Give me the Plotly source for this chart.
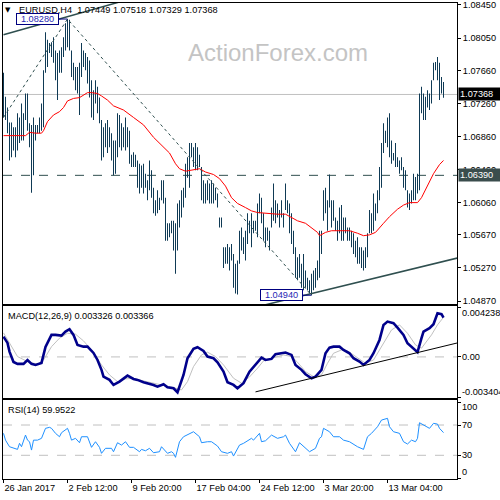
import plotly.graph_objects as go

# ---------------- data ----------------
bar_high = [1.0763,1.0734,1.0721,1.0703,1.0703,1.0697,1.0697,1.0714,1.0709,1.0726,
 1.0714,1.0738,1.0738,1.0702,1.0700,1.0709,1.0700,1.0700,1.0709,1.0726,
 1.0766,1.0812,1.0803,1.0799,1.0800,1.0806,1.0790,1.0787,1.0790,1.0794,
 1.0806,1.0823,1.0828,1.0827,1.0790,1.0775,1.0770,1.0770,1.0775,1.0799,
 1.0790,1.0787,1.0782,1.0778,1.0754,1.0742,1.0754,1.0746,1.0733,1.0706,
 1.0697,1.0702,1.0706,1.0697,1.0690,1.0681,1.0681,1.0714,1.0712,1.0702,
 1.0697,1.0709,1.0697,1.0693,1.0664,1.0667,1.0664,1.0657,1.0653,1.0651,
 1.0653,1.0641,1.0633,1.0657,1.0645,1.0624,1.0609,1.0621,1.0612,1.0633,
 1.0633,1.0612,1.0581,1.0581,1.0584,1.0584,1.0581,1.0605,1.0609,1.0621,
 1.0624,1.0653,1.0661,1.0678,1.0678,1.0673,1.0678,1.0673,1.0664,1.0649,
 1.0633,1.0629,1.0633,1.0629,1.0633,1.0629,1.0624,1.0617,1.0588,1.0588,
 1.0552,1.0552,1.0556,1.0552,1.0556,1.0544,1.0532,1.0536,1.0572,1.0576,
 1.0564,1.0572,1.0593,1.0584,1.0593,1.0584,1.0584,1.0605,1.0617,1.0612,
 1.0593,1.0576,1.0576,1.0572,1.0600,1.0629,1.0609,1.0605,1.0597,1.0609,
 1.0593,1.0629,1.0609,1.0605,1.0593,1.0572,1.0552,1.0540,1.0544,1.0532,
 1.0544,1.0524,1.0515,1.0512,1.0520,1.0524,1.0527,1.0536,1.0572,1.0572,
 1.0621,1.0624,1.0609,1.0640,1.0609,1.0609,1.0588,1.0584,1.0600,1.0603,
 1.0588,1.0588,1.0576,1.0576,1.0572,1.0569,1.0560,1.0564,1.0552,1.0552,
 1.0548,1.0552,1.0569,1.0597,1.0593,1.0617,1.0605,1.0621,1.0649,1.0678,
 1.0702,1.0693,1.0709,1.0714,1.0681,1.0666,1.0678,1.0661,1.0657,1.0661,
 1.0649,1.0645,1.0621,1.0617,1.0621,1.0641,1.0637,1.0641,1.0738,1.0746,
 1.0738,1.0734,1.0742,1.0738,1.0754,1.0775,1.0776,1.0782,1.0775,1.0758,
 1.07518]
bar_low = [1.0709,1.0706,1.0690,1.0657,1.0661,1.0669,1.0661,1.0669,1.0678,1.0681,
 1.0681,1.0706,1.0693,1.0673,1.0618,1.0639,1.0681,1.0690,1.0690,1.0693,
 1.0697,1.0763,1.0770,1.0787,1.0782,1.0775,1.0754,1.0730,1.0763,1.0763,
 1.0782,1.0790,1.0794,1.0790,1.0758,1.0754,1.0742,1.0738,1.0712,1.0758,
 1.0770,1.0766,1.0750,1.0733,1.0709,1.0706,1.0726,1.0714,1.0702,1.0657,
 1.0661,1.0673,1.0666,1.0673,1.0657,1.0639,1.0641,1.0661,1.0673,1.0669,
 1.0673,1.0669,1.0673,1.0653,1.0649,1.0649,1.0649,1.0624,1.0617,1.0624,
 1.0617,1.0624,1.0609,1.0621,1.0612,1.0593,1.0590,1.0593,1.0597,1.0609,
 1.0605,1.0560,1.0560,1.0564,1.0569,1.0548,1.0520,1.0548,1.0576,1.0588,
 1.0600,1.0612,1.0636,1.0624,1.0661,1.0649,1.0645,1.0645,1.0649,1.0609,
 1.0605,1.0605,1.0609,1.0605,1.0605,1.0605,1.0609,1.0600,1.0576,1.0576,
 1.0527,1.0532,1.0532,1.0524,1.0536,1.0503,1.0496,1.0495,1.0532,1.0548,
 1.0544,1.0536,1.0556,1.0569,1.0552,1.0569,1.0572,1.0564,1.0593,1.0581,
 1.0560,1.0552,1.0560,1.0548,1.0576,1.0584,1.0581,1.0588,1.0576,1.0588,
 1.0576,1.0597,1.0593,1.0569,1.0556,1.0544,1.0515,1.0512,1.0515,1.0503,
 1.0500,1.0503,1.0500,1.0496,1.0494,1.0500,1.0503,1.0512,1.0515,1.0544,
 1.0584,1.0593,1.0572,1.0600,1.0576,1.0584,1.0572,1.0560,1.0569,1.0560,
 1.0560,1.0569,1.0560,1.0560,1.0552,1.0544,1.0540,1.0532,1.0532,1.0527,
 1.0524,1.0527,1.0540,1.0569,1.0569,1.0572,1.0584,1.0593,1.0609,1.0624,
 1.0666,1.0678,1.0673,1.0661,1.0653,1.0657,1.0649,1.0649,1.0641,1.0645,
 1.0624,1.0621,1.0600,1.0597,1.0605,1.0609,1.0609,1.0617,1.0621,1.0714,
 1.0706,1.0706,1.0721,1.0718,1.0726,1.0754,1.0766,1.0754,1.0730,1.0738,
 1.07329]
bar_index = list(range(len(bar_high)))

ma_index = [0,11,13,16,19,20,22,25,28,30,32,35,38,40,42,44,47,49,52,55,60,65,70,75,80,83,86,88,91,95,98,101,105,108,111,114,117,121,124,127,131,134,137,141,144,147,151,154,157,158,161,164,168,173,177,180,183,186,190,193,197,200,203,207,209,212,215,218,220]
ma_value = [1.0687,1.0687,1.0691,1.0690,1.0690,1.0693,1.0704,1.0712,1.0716,1.0721,1.0729,1.0732,1.0733,1.0736,1.0739,1.0739,1.0738,1.0735,1.0730,1.0723,1.0718,1.0709,1.0700,1.0685,1.0673,1.0666,1.0653,1.0647,1.0644,1.0646,1.0647,1.0643,1.0640,1.0635,1.0626,1.0612,1.0605,1.0600,1.0596,1.0594,1.0593,1.0593,1.0592,1.0592,1.0588,1.0584,1.0581,1.0576,1.0570,1.0566,1.0570,1.0572,1.0572,1.0572,1.0569,1.0566,1.0567,1.0570,1.0581,1.0589,1.0598,1.0603,1.0606,1.0606,1.0612,1.0626,1.0641,1.0652,1.0657]

macd_index = [0,2,3,5,7,10,12,14,16,19,21,24,26,29,31,33,35,37,40,42,45,47,49,50,53,55,58,60,62,65,67,70,72,75,77,80,82,85,87,90,92,95,97,100,102,105,107,110,112,115,117,120,123,126,129,131,134,136,139,141,144,146,149,151,154,156,159,161,163,165,168,170,173,175,178,180,183,185,188,190,192,195,197,200,202,205,207,209,210,213,215,217,219,220]
macd_main = [0.00172,0.00119,0.00045,-0.00043,-0.00059,-0.00059,-0.00026,-0.00059,-0.00068,-0.00051,0.00085,0.00187,0.00187,0.00181,0.00215,0.00235,0.00187,0.00102,0.00087,0.00087,0.00034,-0.00026,-0.00110,-0.00167,-0.00195,-0.00238,-0.00210,-0.00181,-0.00159,-0.00187,-0.00195,-0.00215,-0.00223,-0.00238,-0.00252,-0.00232,-0.00257,-0.00266,-0.00300,-0.00153,-0.00011,0.00068,0.00082,0.00051,0.00003,-0.00011,-0.00045,-0.00125,-0.00215,-0.00238,-0.00266,-0.00223,-0.00125,-0.00068,-0.00006,-0.00026,-0.00017,0.00023,0.00031,0.00037,0.00017,-0.00068,-0.00110,-0.00147,-0.00181,-0.00167,-0.00110,0.00031,0.00079,0.00087,0.00087,0.00059,0.00031,-0.00011,-0.00040,-0.00068,-0.00026,0.00031,0.00144,0.00272,0.00300,0.00286,0.00249,0.00187,0.00116,0.00074,0.00040,0.00159,0.00215,0.00244,0.00278,0.00371,0.00363,0.003326]
signal_index = [0,4,7,12,17,20,24,28,32,36,40,44,49,53,57,61,65,70,75,80,85,89,92,95,99,102,106,110,115,119,123,127,130,134,137,140,144,147,151,155,159,162,165,169,172,177,181,185,189,194,198,202,206,209,214,217,220]
signal_value = [0.00204,0.00087,0.00003,-0.00040,-0.00062,-0.00026,0.00087,0.00159,0.00201,0.00193,0.00136,0.00059,-0.00068,-0.00153,-0.00210,-0.00187,-0.00181,-0.00204,-0.00223,-0.00238,-0.00261,-0.00280,-0.00210,-0.00082,0.00017,0.00040,0.00003,-0.00068,-0.00181,-0.00223,-0.00170,-0.00096,-0.00034,-0.00011,0.00003,0.00017,0.00003,-0.00045,-0.00125,-0.00167,-0.00153,-0.00054,0.00031,0.00059,0.00051,-0.00011,-0.00054,-0.00026,0.00087,0.00229,0.00272,0.00201,0.00102,0.00074,0.00187,0.00272,0.003366]

rsi_index = [0,1,3,5,7,8,9,11,12,13,14,15,17,19,20,21,23,24,26,28,29,31,32,33,34,36,38,39,42,44,46,48,49,51,54,55,57,59,61,63,65,68,69,71,73,75,78,79,82,84,85,86,88,90,93,95,98,99,102,104,107,109,112,114,115,118,120,123,124,125,128,129,131,134,137,140,141,143,144,146,148,150,153,156,158,159,160,163,165,168,170,173,177,180,182,184,187,189,192,193,195,198,200,202,204,206,207,208,210,212,213,215,217,218,219,220]
rsi_value = [59,50,41.3,39.2,37.8,45.8,41.3,56.7,50,47.9,36.9,50,50,52.4,59.8,65.6,66.9,65.6,59,54.5,59.8,64.2,65.6,59,50,52.4,46.6,54.5,54.5,40.5,47.9,40.5,32.6,39.2,39.2,34.7,46.6,43.5,47.9,40.5,40.5,34.7,37.8,36,39.2,33.4,34.7,41.3,32.6,34.7,32.6,27.3,47.9,54.5,59,61.1,54.5,46.6,47.9,47.9,42.2,34.7,32.6,34.7,29,43.5,45.8,50,52.4,50,59,47.9,49.2,56.7,52.4,54.5,56.7,45.8,42.2,34.7,46.6,41.3,34.7,39.2,52.4,54.5,65.6,61.1,54.5,54.5,50,47.9,41.3,37.8,54.5,59,67.7,76.5,78.8,67.7,61.1,59,47.9,44.9,50,47.9,52.4,73,69.9,67.7,65.6,72.2,71.2,65.6,62.4,59.9522]

# drawn objects (price/indicator values at bar indices)
trend_top_index = [0, 60]
trend_top_price = [1.0809, 1.0850]
dotted_index = [0, 32, 154]
dotted_price = [1.0709, 1.0828, 1.0494]
trend_low_index = [120, 227]
trend_low_price = [1.0476, 1.0539]
macd_trend_index = [126, 227]
macd_trend_value = [-0.00297, 0.00119]

last_close = 1.07368
level_price = 1.06390
swing_high = (32, 1.0828, "1.08280")
swing_low = (154, 1.0494, "1.04940")

price_ticks = [1.0845, 1.0805, 1.0766, 1.0726, 1.0686, 1.0646, 1.0606, 1.0567, 1.0527, 1.0487]
price_tick_text = ["1.08450", "1.08050", "1.07660", "1.07260", "1.06860", "1.06460",
                   "1.06060", "1.05670", "1.05270", "1.04870"]
macd_ticks = [0.004238, 0.0, -0.003404]
macd_tick_text = ["0.004238", "0.00", "-0.003404"]
macd_tick_shift = [-6, 0, 5]
rsi_ticks = [100, 70, 30, 0]
rsi_tick_text = ["100", "70", "30", "0"]
rsi_tick_shift = [-5, 0, 0, 6]
date_ticks = [0, 32, 64, 96, 128, 160, 192]
date_text = ["26 Jan 2017", "2 Feb 12:00", "9 Feb 20:00", "17 Feb 04:00",
             "24 Feb 12:00", "3 Mar 20:00", "13 Mar 04:00"]

header_text = "EURUSD,H4  1.07449 1.07518 1.07329 1.07368"
macd_text = "MACD(12,26,9) 0.003326 0.003366"
rsi_text = "RSI(14) 59.9522"

# ---------------- styling ----------------
FONT = "Liberation Sans, Arial, sans-serif"
FS = 9.2
BAR = "#0f3a55"
SLATE = "#2f4f4f"
XR = [-0.25, 226.75]
XDOM = [0.006, 0.914]

fig = go.Figure()

fig.add_trace(go.Bar(x=bar_index, base=bar_low,
                     y=[h - l for h, l in zip(bar_high, bar_low)],
                     width=0.5, marker=dict(color=BAR, line=dict(width=0)),
                     xaxis="x", yaxis="y", hoverinfo="skip"))
fig.add_trace(go.Scatter(x=ma_index, y=ma_value, mode="lines",
                         line=dict(color="#ff0000", width=1), xaxis="x", yaxis="y"))
fig.add_trace(go.Scatter(x=dotted_index, y=dotted_price, mode="lines",
                         line=dict(color=SLATE, width=1, dash="dot"), xaxis="x", yaxis="y"))
fig.add_trace(go.Scatter(x=trend_top_index, y=trend_top_price, mode="lines",
                         line=dict(color=SLATE, width=1.5), xaxis="x", yaxis="y"))
fig.add_trace(go.Scatter(x=trend_low_index, y=trend_low_price, mode="lines",
                         line=dict(color=SLATE, width=1.5), xaxis="x", yaxis="y"))

fig.add_trace(go.Scatter(x=signal_index, y=signal_value, mode="lines",
                         line=dict(color="#c0c0c0", width=1), xaxis="x2", yaxis="y2"))
fig.add_trace(go.Scatter(x=macd_index, y=macd_main, mode="lines",
                         line=dict(color="#00008b", width=2.6), xaxis="x2", yaxis="y2"))
fig.add_trace(go.Scatter(x=macd_trend_index, y=macd_trend_value, mode="lines",
                         line=dict(color="#000000", width=1), xaxis="x2", yaxis="y2"))

fig.add_trace(go.Scatter(x=rsi_index, y=rsi_value, mode="lines",
                         line=dict(color="#1e90ff", width=1), xaxis="x3", yaxis="y3"))

shapes = [
    dict(type="line", xref="x domain", x0=0, x1=1, yref="y", y0=last_close, y1=last_close,
         line=dict(color="#c0c0c0", width=1), layer="below"),
    dict(type="line", xref="x domain", x0=0, x1=1, yref="y", y0=level_price, y1=level_price,
         line=dict(color=SLATE, width=1, dash="dash"), layer="below"),
    dict(type="line", xref="x2 domain", x0=0, x1=1, yref="y2", y0=0, y1=0,
         line=dict(color="#c0c0c0", width=1, dash="dash"), layer="below"),
    dict(type="line", xref="x3 domain", x0=0, x1=1, yref="y3", y0=70, y1=70,
         line=dict(color="#c0c0c0", width=1, dash="dash"), layer="below"),
    dict(type="line", xref="x3 domain", x0=0, x1=1, yref="y3", y0=30, y1=30,
         line=dict(color="#c0c0c0", width=1, dash="dash"), layer="below"),
]

ann = []
ann.append(dict(xref="paper", yref="paper", x=0.016, y=0.98, text="▼", showarrow=False,
                font=dict(family="DejaVu Sans", size=7, color="black"), xanchor="center", yanchor="middle"))
ann.append(dict(xref="paper", yref="paper", x=0.034, y=0.98, text=header_text, showarrow=False,
                font=dict(family=FONT, size=FS, color="black"), xanchor="left", yanchor="middle"))
ann.append(dict(xref="paper", yref="paper", x=0.556, y=0.894, text="ActionForex.com", showarrow=False,
                font=dict(family=FONT, size=24, color="#c4c4c4"), xanchor="center", yanchor="middle"))
ann.append(dict(xref="paper", yref="paper", x=0.012, y=1 - 316 / 500, text=macd_text, showarrow=False,
                font=dict(family=FONT, size=FS, color="black"), xanchor="left", yanchor="middle"))
ann.append(dict(xref="paper", yref="paper", x=0.012, y=1 - 410 / 500, text=rsi_text, showarrow=False,
                font=dict(family=FONT, size=FS, color="black"), xanchor="left", yanchor="middle"))

for v, t, s in zip(macd_ticks, macd_tick_text, macd_tick_shift):
    ann.append(dict(xref="paper", yref="y2", x=0.922, y=v, yshift=s, text=t, showarrow=False,
                    font=dict(family=FONT, size=FS, color="black"), xanchor="left", yanchor="middle",
                    borderpad=0))
for v, t, s in zip(rsi_ticks, rsi_tick_text, rsi_tick_shift):
    ann.append(dict(xref="paper", yref="y3", x=0.922, y=v, yshift=s, text=t, showarrow=False,
                    font=dict(family=FONT, size=FS, color="black"), xanchor="left", yanchor="middle",
                    borderpad=0))

ann.append(dict(xref="paper", yref="y", x=0.916, y=last_close, text=f"{last_close:.5f}", showarrow=False,
                font=dict(family=FONT, size=FS, color="white"), bgcolor="#000000",
                xanchor="left", yanchor="middle", width=40, align="left", borderpad=1))
ann.append(dict(xref="paper", yref="y", x=0.916, y=level_price, text=f"{level_price:.5f}", showarrow=False,
                font=dict(family=FONT, size=FS, color="white"), bgcolor="#3a4d4d",
                xanchor="left", yanchor="middle", width=40, align="left", borderpad=1))

for (xi, pv, txt) in [swing_high, swing_low]:
    ann.append(dict(xref="x", yref="y", x=xi, y=pv, text=txt, showarrow=True, arrowhead=0,
                    arrowwidth=1, arrowcolor="#000080", ax=-30.5, ay=0, standoff=0,
                    font=dict(family=FONT, size=FS, color="#1f1fb4"), bgcolor="white",
                    bordercolor="#000080", borderwidth=1, borderpad=0, width=41))

axis_common = dict(showgrid=False, zeroline=False, showline=True, mirror=True,
                   linecolor="black", linewidth=1, automargin=False)

fig.update_layout(
    width=500, height=500, margin=dict(l=0, r=0, t=0, b=0, autoexpand=False),
    paper_bgcolor="white", plot_bgcolor="white", showlegend=False,
    shapes=shapes, annotations=ann,
    xaxis=dict(domain=XDOM, range=XR, anchor="y", showticklabels=False, ticks="", **axis_common),
    xaxis2=dict(domain=XDOM, range=XR, anchor="y2", showticklabels=False, ticks="", **axis_common),
    xaxis3=dict(domain=XDOM, range=XR, anchor="y3", tickvals=date_ticks, ticktext=date_text,
                ticks="outside", ticklen=3, tickcolor="black", ticklabelposition="outside right",
                tickangle=0, tickfont=dict(family=FONT, size=FS, color="black"), **axis_common),
    yaxis=dict(domain=[0.392, 0.994], range=[1.04834, 1.08474], anchor="x", side="right",
               tickvals=price_ticks, ticktext=price_tick_text, ticks="outside", ticklen=3,
               tickcolor="black", tickfont=dict(family=FONT, size=FS, color="black"), **axis_common),
    yaxis2=dict(domain=[0.204, 0.388], range=[-0.003489, 0.004323], anchor="x2", side="right",
                tickvals=macd_ticks, showticklabels=False, ticks="outside", ticklen=3,
                tickcolor="black", **axis_common),
    yaxis3=dict(domain=[0.042, 0.2], range=[-1.3, 103], anchor="x3", side="right",
                tickvals=rsi_ticks, showticklabels=False, ticks="outside", ticklen=3,
                tickcolor="black", **axis_common),
)

fig.write_html("out.html", config={"displayModeBar": False},
               post_script="document.body.style.margin='0';document.body.style.overflow='hidden';")
